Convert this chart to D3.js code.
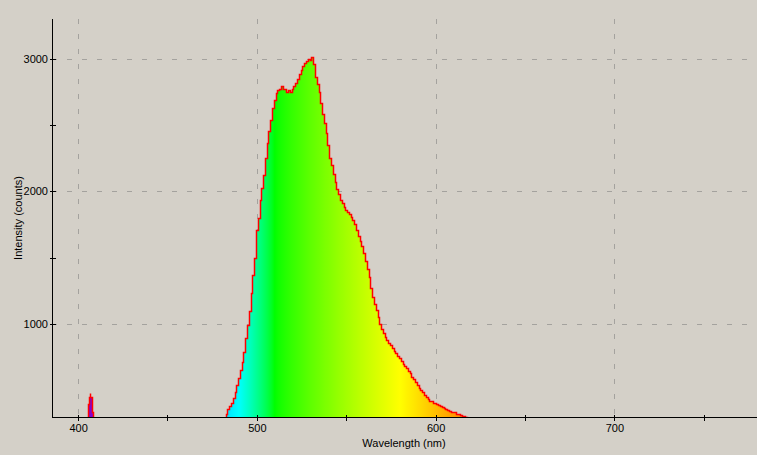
<!DOCTYPE html>
<html>
<head>
<meta charset="utf-8">
<script src="https://cdn.jsdelivr.net/npm/d3@7"></script>
<style>
  html, body { margin: 0; padding: 0; background: #d4d0c8; }
  svg { display: block; }
  text { font-family: "Liberation Sans", Arial, sans-serif; font-size: 11px; fill: #000; }
</style>
</head>
<body>
<svg id="chart" width="757" height="455"></svg>
<script>
// ---- data ----
const xTickValues = [400, 500, 600, 700];
const xMinorTicks = [450, 550, 650, 750];
const yTickValues = [1000, 2000, 3000];
const yMinorTicks = [1500, 2500];
const xTitle = "Wavelength (nm)";
const yTitle = "Intensity (counts)";

// small laser line near 406 nm (step starts)
const spikeWavelengths = [404.5, 405.26, 406.0, 406.4, 406.7, 407.5, 408.06, 408.6];
const spikeCounts      = [250,   398,    453,   483,   453,   340,   250,    250];

// main emission band, one sample per nm starting at 481 nm
const bandStart = 481;
const bandCounts = [
  270, 292, 323, 360, 383, 405, 443, 488, 541, 594,           // 481-490
  654, 714, 790, 895, 993, 1098, 1234, 1370, 1498, 1709,      // 491-500
  1799, 1935, 2025, 2123, 2251, 2364, 2455, 2537, 2628, 2688, // 501-510
  2741, 2763, 2775, 2792, 2776, 2770, 2752, 2762, 2748, 2771, // 511-520
  2793, 2816, 2846, 2884, 2914, 2944, 2967, 2982, 2996, 2989, // 521-530
  3010, 2962, 2861, 2808, 2748, 2665, 2582, 2515, 2439, 2349, // 531-540
  2251, 2198, 2130, 2070, 2018, 1980, 1935, 1912, 1882, 1863, // 541-550
  1848, 1833, 1810, 1784, 1754, 1709, 1663, 1626, 1588, 1535, // 551-560
  1475, 1415, 1355, 1272, 1204, 1151, 1106, 1053, 1001, 963,  // 561-570
  933, 903, 880, 861, 842, 820, 797, 782, 760, 741,           // 571-580
  722, 703, 684, 669, 647, 628, 605, 586, 564, 541,           // 581-590
  522, 503, 485, 466, 451, 436, 424, 417, 409, 405,           // 591-600
  398, 390, 383, 372, 366, 360, 353, 347, 341, 338,           // 601-610
  334, 326, 323, 317, 311, 305, 300, 290, 280                 // 611-619
];

(function () {
// ---- layout ----
const svg = d3.select("#chart");
const mLeft = 52, mTop = 19, mBottom = 417, mRight = 757;

const x = d3.scaleLinear().domain([385.4, 779.8]).range([mLeft, mRight]);
const y = d3.scaleLinear().domain([300, 3300]).range([mBottom, mTop]);

// wavelength -> colour (Bruton style)
function wlColor(w) {
  let r = 0, g = 0, b = 0;
  if (w < 440) { r = (440 - w) / 60; b = 1; }
  else if (w < 490) { g = (w - 440) / 50; b = 1; }
  else if (w < 510) { g = 1; b = (510 - w) / 20; }
  else if (w < 580) { r = (w - 510) / 70; g = 1; }
  else if (w < 645) { r = 1; g = (645 - w) / 65; }
  else { r = 1; }
  let f = 1;
  if (w < 420) f = 0.3 + 0.7 * (w - 380) / 40;
  const gm = v => Math.round(255 * Math.pow(Math.max(0, Math.min(1, v * f)), 0.8));
  return `rgb(${gm(r)},${gm(g)},${gm(b)})`;
}

const defs = svg.append("defs");
const grad = defs.append("linearGradient")
  .attr("id", "spec").attr("gradientUnits", "userSpaceOnUse")
  .attr("x1", x(380)).attr("x2", x(780)).attr("y1", 0).attr("y2", 0);
d3.range(380, 781, 2).forEach(w => {
  grad.append("stop").attr("offset", (w - 380) / 400).attr("stop-color", wlColor(w));
});
defs.append("clipPath").attr("id", "plotclip")
  .append("rect").attr("x", mLeft).attr("y", mTop).attr("width", mRight - mLeft).attr("height", mBottom - mTop);

// grid
const gridColor = "#a4a29e";
svg.append("g").selectAll("line").data(xTickValues).join("line")
  .attr("x1", d => Math.round(x(d)) + 0.5).attr("x2", d => Math.round(x(d)) + 0.5)
  .attr("y1", mTop).attr("y2", mBottom)
  .attr("stroke", gridColor).attr("stroke-dasharray", "5,10");
svg.append("g").selectAll("line").data(yTickValues).join("line")
  .attr("y1", d => Math.round(y(d)) + 0.5).attr("y2", d => Math.round(y(d)) + 0.5)
  .attr("x1", mLeft).attr("x2", mRight)
  .attr("stroke", gridColor).attr("stroke-dasharray", "5,10");

// data -> step edges (each band sample covers w-0.5 .. w+0.5)
const band = bandCounts.map((v, i) => ({ w: bandStart + i - 0.5, v }));
band.push({ w: bandStart + bandCounts.length - 0.5, v: bandCounts[bandCounts.length - 1] });
const spike = spikeCounts.map((v, i) => ({ w: spikeWavelengths[i], v }));

const px = d => Math.round(x(d.w)) + 0.5;
const py = d => Math.round(y(d.v)) + 0.5;

const plot = svg.append("g").attr("clip-path", "url(#plotclip)");
[spike, band].forEach(ds => {
  const area = d3.area().curve(d3.curveStepAfter).x(px).y0(y(0)).y1(py);
  const line = d3.line().curve(d3.curveStepAfter).x(px).y(py);
  plot.append("path").datum(ds).attr("d", area).attr("fill", "url(#spec)");
  plot.append("path").datum(ds).attr("d", line)
    .attr("fill", "none").attr("stroke", "#ff0000").attr("stroke-width", 1.5)
    .attr("stroke-linejoin", "miter");
});

// axes
const ax = svg.append("g").attr("shape-rendering", "crispEdges");
ax.append("line").attr("x1", mLeft + 0.5).attr("x2", mLeft + 0.5).attr("y1", mTop).attr("y2", mBottom + 1)
  .attr("stroke", "#000");
ax.append("line").attr("x1", mLeft).attr("x2", mRight).attr("y1", mBottom + 0.5).attr("y2", mBottom + 0.5)
  .attr("stroke", "#000");

ax.selectAll(".xt").data(xTickValues.concat(xMinorTicks)).join("line")
  .attr("x1", d => Math.round(x(d)) + 0.5).attr("x2", d => Math.round(x(d)) + 0.5)
  .attr("y1", mBottom - 2).attr("y2", mBottom + 4).attr("stroke", "#000");
ax.selectAll(".yt").data(yTickValues.concat(yMinorTicks)).join("line")
  .attr("y1", d => Math.round(y(d)) + 0.5).attr("y2", d => Math.round(y(d)) + 0.5)
  .attr("x1", mLeft - 2).attr("x2", mLeft + 4).attr("stroke", "#000");

ax.selectAll(".xl").data(xTickValues).join("text")
  .attr("x", d => x(d) + 0.5).attr("y", mBottom + 15)
  .attr("text-anchor", "middle").text(d => d);
ax.selectAll(".yl").data(yTickValues).join("text")
  .attr("x", mLeft - 4).attr("y", d => y(d) + 4)
  .attr("text-anchor", "end").text(d => d);

svg.append("text").attr("x", 404).attr("y", 447).attr("text-anchor", "middle").text(xTitle);
svg.append("text").attr("transform", "translate(22,218) rotate(-90)")
  .attr("text-anchor", "middle").text(yTitle);
})();
</script>
</body>
</html>
